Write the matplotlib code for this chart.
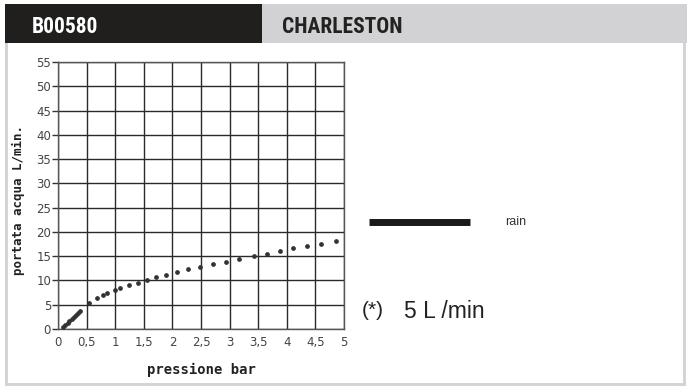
import matplotlib.pyplot as plt
from matplotlib.patches import Rectangle
from matplotlib import font_manager

# chart data
pressure = [0.09, 0.13, 0.17, 0.20, 0.24, 0.28, 0.31, 0.35, 0.385,
            0.55, 0.68, 0.78, 0.86, 1.0, 1.08, 1.24, 1.39, 1.55, 1.71,
            1.89, 2.08, 2.28, 2.49, 2.71, 2.94, 3.17, 3.43, 3.66, 3.88,
            4.11, 4.35, 4.6, 4.86]
flow = [0.5, 0.9, 1.3, 1.7, 2.1, 2.5, 2.9, 3.3, 3.7,
        5.4, 6.4, 7.05, 7.5, 8.0, 8.5, 9.1, 9.5, 10.1, 10.8,
        11.2, 11.7, 12.3, 12.8, 13.3, 13.8, 14.4, 15.0, 15.5, 16.0,
        16.6, 17.1, 17.6, 18.1]
x_ticks = [0, 0.5, 1, 1.5, 2, 2.5, 3, 3.5, 4, 4.5, 5]
x_labels = ['0', '0,5', '1', '1,5', '2', '2,5', '3', '3,5', '4', '4,5', '5']
y_ticks = list(range(0, 56, 5))

code = 'B00580'
model = 'CHARLESTON'
legend_label = 'rain'
note_mark = '(*)'
note = '5 L /min'

W, H = 687, 387
fig = plt.figure(figsize=(W / 100, H / 100), dpi=100)
fig.patch.set_facecolor('white')

def px(x, y, w, h):
    # pixel box (top-left origin) -> figure fraction
    return (x / W, 1 - (y + h) / H, w / W, h / H)

def rect(x, y, w, h, color):
    l, b, ww, hh = px(x, y, w, h)
    fig.patches.append(Rectangle((l, b), ww, hh, transform=fig.transFigure,
                                 facecolor=color, edgecolor='none', zorder=0))

# header bands and frame
rect(5, 4, 257, 39, '#201f1d')
rect(262, 4, 425, 39, '#d2d2d4')
rect(5, 43, 3, 343, '#d4d4d4')
rect(683, 43, 3, 343, '#d4d4d4')
rect(5, 383, 681, 3, '#d4d4d4')

# pick a narrow face if one is around
names = {f.name for f in font_manager.fontManager.ttflist}
cond_fams = [n for n in ['Liberation Sans Narrow', 'Roboto Condensed',
                         'Open Sans Condensed', 'DejaVu Sans Condensed']
             if n in names]
has_narrow = bool(cond_fams)
cond = cond_fams + ['DejaVu Sans']
hsize = 15.5 if has_narrow else 13
fig.text(32 / W, 1 - 27 / H, code, color='white', fontsize=hsize, fontweight='bold',
         family=cond, fontstretch='condensed', va='center', ha='left')
fig.text(282 / W, 1 - 27 / H, model, color='#222222', fontsize=hsize,
         fontweight='bold', family=cond, fontstretch='condensed',
         va='center', ha='left')

ax = fig.add_axes(px(58, 62, 286, 267))
ax.plot(pressure, flow, linestyle='none', marker='o', markersize=2.4,
        color='#333333', zorder=3)
ax.set_xlim(0, 5)
ax.set_ylim(0, 55)
ax.set_xticks(x_ticks)
ax.set_xticklabels(x_labels)
ax.set_yticks(y_ticks)
ax.grid(True, color='#2a2a2a', linewidth=1)
for s in ax.spines.values():
    s.set_color('#555555')
    s.set_linewidth(1)
ax.tick_params(axis='y', length=4, width=1, color='#333333', labelsize=8.5,
               labelcolor='#444444', pad=1)
ax.tick_params(axis='x', length=0, labelsize=8.5, labelcolor='#444444', pad=5)

fig.text(18 / W, 1 - 200 / H, 'portata acqua L/min.', rotation=90, fontsize=9,
         fontweight='bold', family='DejaVu Sans Mono', color='#222222',
         va='center', ha='center')
fig.text(201 / W, 1 - 370 / H, 'pressione bar', fontsize=10, fontweight='bold',
         family='DejaVu Sans Mono', color='#222222', va='center', ha='center')

# legend
fig.add_artist(plt.Line2D([369 / W, 470 / W], [1 - 222 / H, 1 - 222 / H],
                          color='#1a1a1a', linewidth=5, solid_capstyle='butt',
                          transform=fig.transFigure))
fig.text(505 / W, 1 - 222 / H, legend_label, fontsize=9, color='#333333',
         family='Liberation Sans', va='center', ha='left')
fig.text(362 / W, 1 - 311 / H, note_mark, fontsize=15, color='#222222',
         family='Liberation Sans', va='center', ha='left')
fig.text(404 / W, 1 - 311 / H, note, fontsize=16.5, color='#222222',
         family='Liberation Sans', va='center', ha='left')

fig.savefig('out.png', dpi=100)
